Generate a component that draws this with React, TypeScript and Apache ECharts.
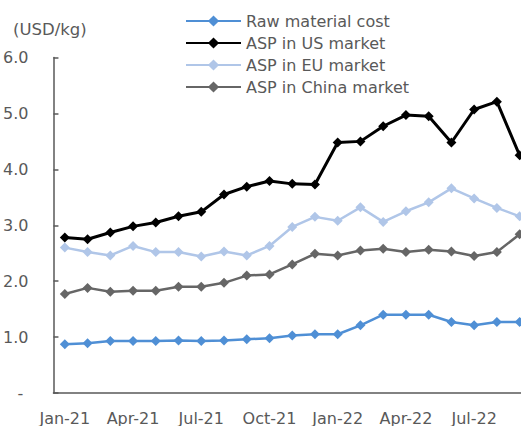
import React, { useEffect, useRef } from "react";
import * as echarts from "echarts";

// Monthly average prices, Jan 2021 – Sep 2022 (USD/kg)
const months = [
  "Jan-21", "Feb-21", "Mar-21", "Apr-21", "May-21", "Jun-21", "Jul-21",
  "Aug-21", "Sep-21", "Oct-21", "Nov-21", "Dec-21", "Jan-22", "Feb-22",
  "Mar-22", "Apr-22", "May-22", "Jun-22", "Jul-22", "Aug-22", "Sep-22",
];

const rawMaterialCost = [
  0.87, 0.89, 0.93, 0.93, 0.93, 0.94, 0.93, 0.94, 0.96, 0.98, 1.03, 1.05,
  1.05, 1.21, 1.4, 1.4, 1.4, 1.27, 1.21, 1.27, 1.27,
];

const aspUS = [
  2.78, 2.75, 2.87, 2.98, 3.05, 3.16, 3.24, 3.55, 3.69, 3.79, 3.74, 3.73,
  4.48, 4.5, 4.77, 4.97, 4.95, 4.48, 5.07, 5.21, 4.25,
];

const aspEU = [
  2.6, 2.52, 2.46, 2.63, 2.52, 2.52, 2.44, 2.53, 2.46, 2.63, 2.97, 3.15,
  3.08, 3.32, 3.06, 3.25, 3.41, 3.66, 3.48, 3.31, 3.16,
];

const aspChina = [
  1.77, 1.88, 1.81, 1.83, 1.83, 1.9, 1.9, 1.97, 2.1, 2.12, 2.3, 2.49,
  2.46, 2.55, 2.58, 2.52, 2.56, 2.53, 2.45, 2.52, 2.84,
];

const FONT = "DejaVu Sans";
const TEXT_COLOR = "#595959";
const AXIS_COLOR = "#595959";

function lineSeries(name: string, data: number[], color: string, width: number, z: number) {
  return {
    name,
    type: "line",
    data,
    symbol: "diamond",
    symbolSize: 10,
    z,
    lineStyle: { color, width },
    itemStyle: { color },
    emphasis: { disabled: true },
  };
}

export default function App() {
  const ref = useRef<HTMLDivElement>(null);

  useEffect(() => {
    if (!ref.current) return;
    const chart = echarts.init(ref.current, undefined, { renderer: "svg" });
    chart.setOption({
      animation: false,
      backgroundColor: "#ffffff",
      textStyle: { fontFamily: FONT },
      // the plot area runs past the visible frame on the right
      grid: { left: 50, top: 57.5, width: 481, height: 336 },
      legend: {
        orient: "vertical",
        left: 185,
        top: 13,
        padding: 0,
        itemWidth: 55,
        itemHeight: 14,
        itemGap: 6,
        textStyle: { fontFamily: FONT, fontSize: 16, color: TEXT_COLOR },
        data: [
          "Raw material cost",
          "ASP in US market",
          "ASP in EU market",
          "ASP in China market",
        ],
      },
      graphic: [
        {
          type: "text",
          x: 13,
          y: 29,
          style: {
            text: "(USD/kg)",
            font: `16.5px "${FONT}"`,
            fill: TEXT_COLOR,
            verticalAlign: "middle",
          },
        },
      ],
      xAxis: {
        type: "category",
        data: months,
        boundaryGap: true,
        axisLine: { lineStyle: { color: AXIS_COLOR, width: 1.5 } },
        axisTick: {
          inside: true,
          length: 5,
          interval: 0,
          lineStyle: { color: AXIS_COLOR, width: 1.5 },
        },
        axisLabel: {
          interval: 2,
          margin: 17,
          fontSize: 16,
          fontFamily: FONT,
          color: TEXT_COLOR,
        },
        splitLine: { show: false },
      },
      yAxis: {
        type: "value",
        min: 0,
        max: 6,
        interval: 1,
        axisLine: { show: true, lineStyle: { color: AXIS_COLOR, width: 1.5 } },
        axisTick: {
          show: true,
          inside: true,
          length: 5,
          lineStyle: { color: AXIS_COLOR, width: 1.5 },
        },
        axisLabel: {
          margin: 25,
          fontSize: 16,
          fontFamily: FONT,
          color: TEXT_COLOR,
          formatter: (v: number) => (v === 0 ? "- " : v.toFixed(1)),
        },
        splitLine: { show: false },
      },
      series: [
        lineSeries("Raw material cost", rawMaterialCost, "#4f8fd5", 2.5, 4),
        lineSeries("ASP in US market", aspUS, "#000000", 3, 3),
        lineSeries("ASP in EU market", aspEU, "#b0c6e8", 2.5, 2),
        lineSeries("ASP in China market", aspChina, "#666666", 2.5, 1),
      ],
    });
    return () => chart.dispose();
  }, []);

  return (
    <div
      style={{
        position: "absolute",
        left: 0,
        top: 0,
        width: 521,
        height: 426,
        overflow: "hidden",
        background: "#ffffff",
      }}
    >
      <div ref={ref} style={{ width: 560, height: 426 }} />
    </div>
  );
}
